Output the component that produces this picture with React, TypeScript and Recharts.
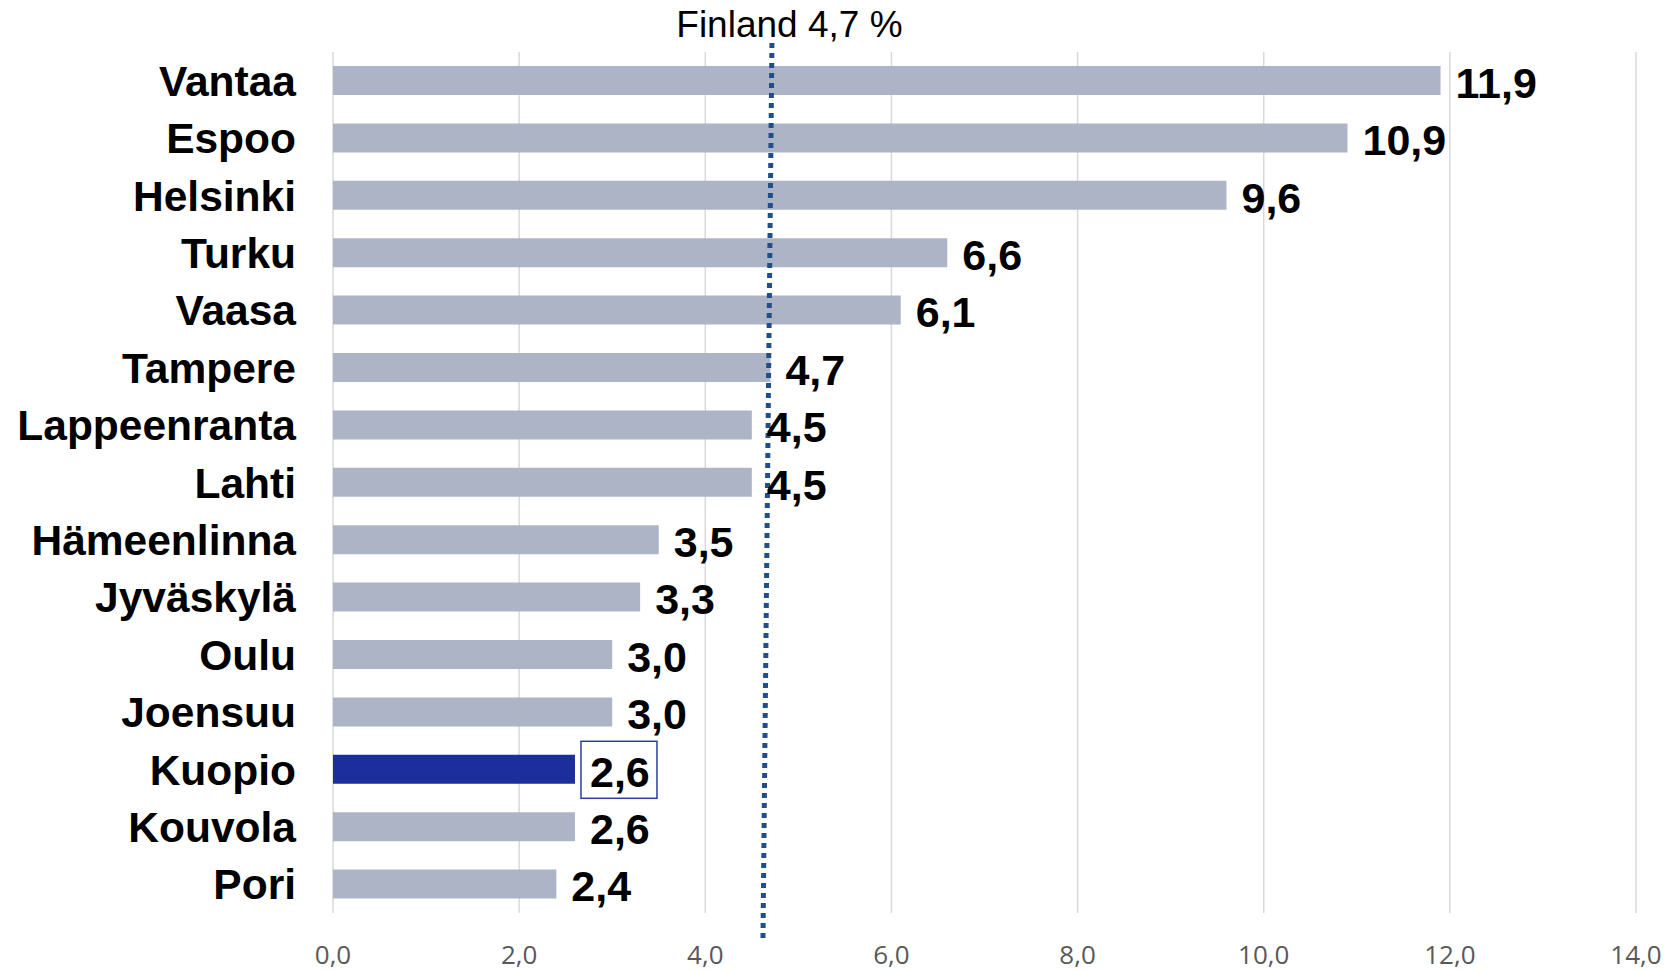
import React from 'react';
import { BarChart, Bar, XAxis, YAxis, CartesianGrid, ReferenceLine, LabelList, Cell } from 'recharts';

const cities = ['Vantaa', 'Espoo', 'Helsinki', 'Turku', 'Vaasa', 'Tampere', 'Lappeenranta', 'Lahti', 'Hämeenlinna', 'Jyväskylä', 'Oulu', 'Joensuu', 'Kuopio', 'Kouvola', 'Pori'];
const values = [11.9, 10.9, 9.6, 6.6, 6.1, 4.7, 4.5, 4.5, 3.5, 3.3, 3.0, 3.0, 2.6, 2.6, 2.4];
const xTicks = [0, 2, 4, 6, 8, 10, 12, 14];
const highlightCity = 'Kuopio';
const finlandValue = 4.7;
const finlandLabel = 'Finland 4,7 %';

const data = cities.map((c, i) => ({ city: c, value: values[i] }));

const fmt = (v: number) => v.toFixed(1).replace('.', ',');

const BAR_COLOR = '#adb4c6';
const HIGHLIGHT_COLOR = '#1b2e9b';
const FONT = "'Liberation Sans', Arial, sans-serif";

const ValueLabel = (props: any) => {
  const { x, y, width, height, value, index } = props;
  const tx = x + width + 15;
  const cy = y + height / 2;
  const isHi = data[index] && data[index].city === highlightCity;
  return (
    <g>
      {isHi && (
        <rect x={tx - 9} y={cy - 28} width={76} height={57} fill="none" stroke="#2a3ca0" strokeWidth={1.5} />
      )}
      <text
        x={tx}
        y={cy + 6}
        dominantBaseline="middle"
        textAnchor="start"
        fontFamily={FONT}
        fontWeight="bold"
        fontSize={43}
        fill="#000"
      >
        {fmt(Number(value))}
      </text>
    </g>
  );
};

const NoShape = () => <g />;

const FinlandMarker = (props: any) => {
  const { viewBox } = props;
  const x = viewBox.x;
  const top = viewBox.y;
  const bottom = viewBox.y + viewBox.height;
  return (
    <g>
      <line
        x1={x + 1.5}
        y1={top - 9}
        x2={x - 7.5}
        y2={bottom + 30}
        stroke="#1f4e8c"
        strokeWidth={5}
        strokeDasharray="5 5"
      />
      <text
        x={x + 19}
        y={top - 15}
        textAnchor="middle"
        fontFamily={FONT}
        fontSize={37}
        fill="#000"
      >
        {finlandLabel}
      </text>
    </g>
  );
};

export default function App() {
  return (
    <div style={{ position: 'absolute', left: 0, top: 0, width: 1668, height: 971, background: '#fff' }}>
      <BarChart
        width={1668}
        height={971}
        data={data}
        layout="vertical"
        margin={{ top: 52, right: 32, bottom: 0, left: 0 }}
      >
        <CartesianGrid horizontal={false} vertical stroke="#d9d9d9" strokeWidth={1.5} />
        <XAxis
          type="number"
          domain={[0, 14]}
          ticks={xTicks}
          tickFormatter={fmt}
          axisLine={false}
          tickLine={false}
          tickMargin={27}
          height={58}
          interval={0}
          tick={{ fontFamily: "'Open Sans', sans-serif", fontSize: 26, fill: '#595959' }}
        />
        <YAxis
          type="category"
          dataKey="city"
          width={333}
          axisLine={false}
          tickLine={false}
          tickMargin={31}
          interval={0}
          tick={{ fontFamily: FONT, fontSize: 42.5, fontWeight: 'bold', fill: '#000' }}
        />
        <Bar dataKey="value" barSize={29} isAnimationActive={false}>
          {data.map((d) => (
            <Cell key={d.city} fill={d.city === highlightCity ? HIGHLIGHT_COLOR : BAR_COLOR} />
          ))}
          <LabelList dataKey="value" content={<ValueLabel />} />
        </Bar>
        <ReferenceLine
          x={finlandValue}
          ifOverflow="visible"
          shape={<NoShape />}
          label={<FinlandMarker />}
        />
      </BarChart>
    </div>
  );
}
